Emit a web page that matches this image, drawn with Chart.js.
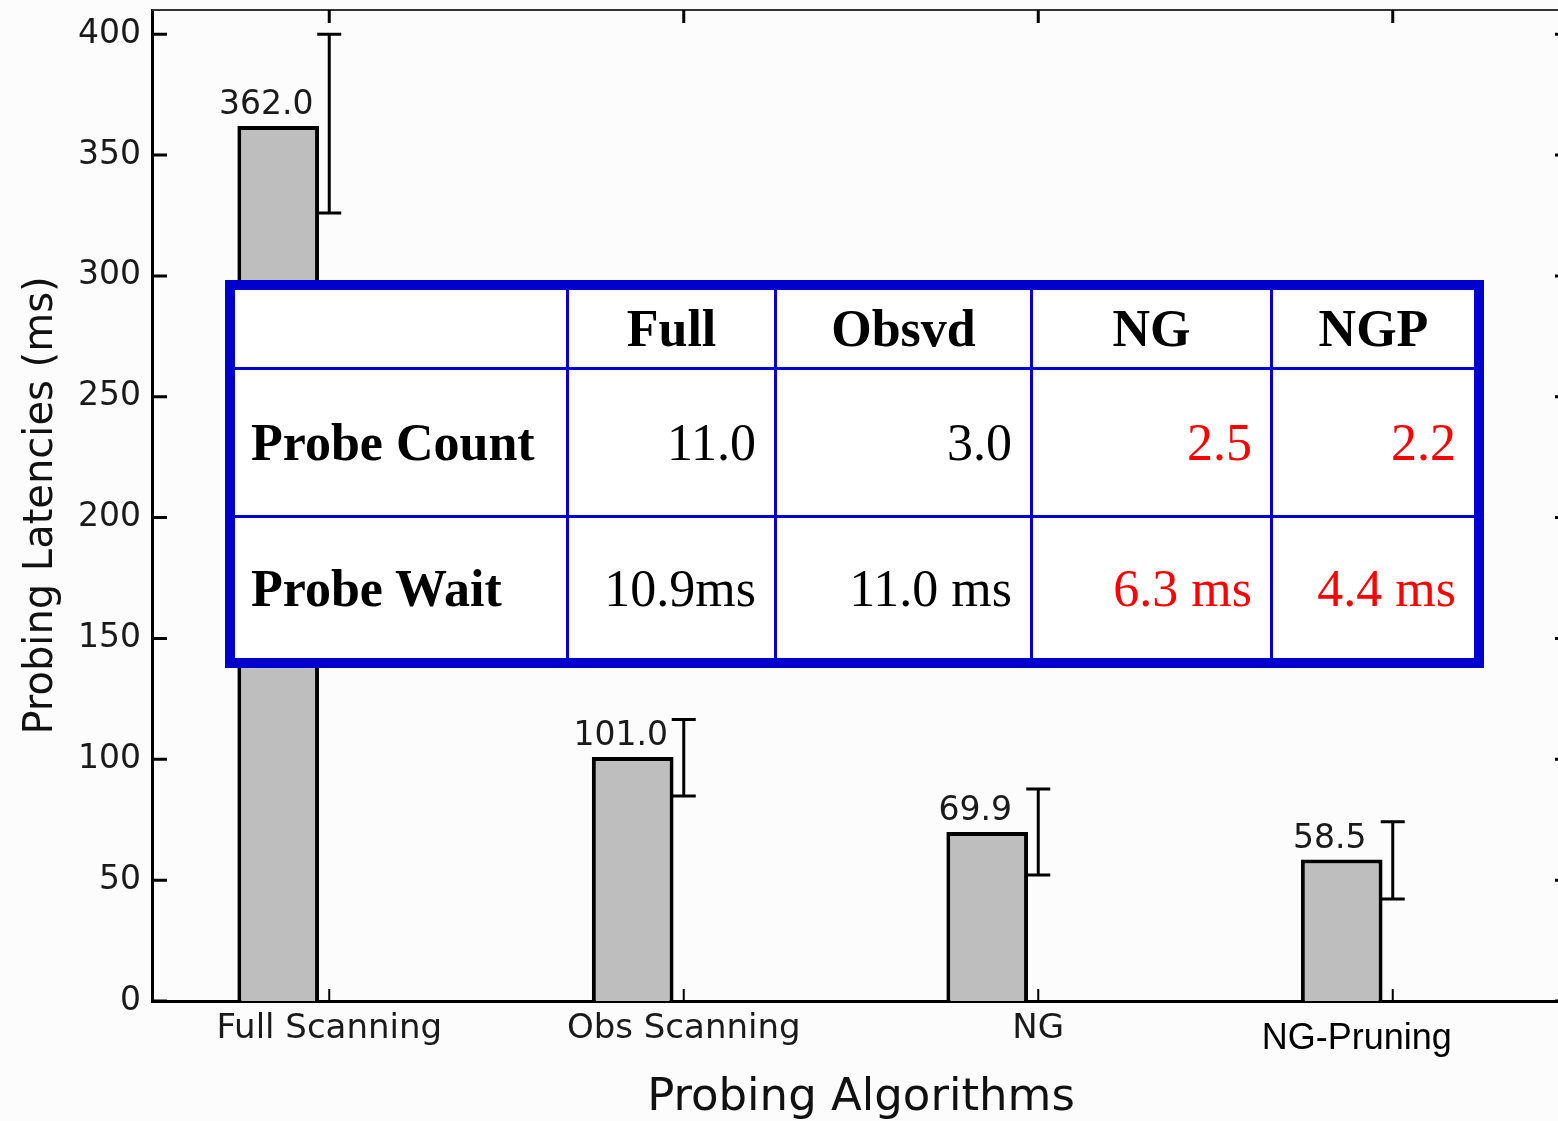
<!DOCTYPE html>
<html>
<head>
<meta charset="utf-8">
<title>Probing Latencies</title>
<script src="https://cdn.jsdelivr.net/npm/chart.js@4.4.0/dist/chart.umd.min.js"></script>
<style>
  html, body { margin: 0; padding: 0; background: #fcfcfc; overflow: hidden; }
  #wrap { position: relative; width: 1558px; height: 1121px; overflow: hidden; }
  #chart { position: absolute; left: 0; top: 0; }
  #stats {
    position: absolute; left: 225px; top: 280px;
    border: 10px solid #0000cc; border-spacing: 0; background: #fff;
    table-layout: fixed; width: 1259px;
    font-family: 'Liberation Serif', 'Times New Roman', serif; font-size: 52px; color: #000;
  }
  #stats td {
    box-sizing: border-box; padding: 0 18px 0 0;
    border-right: 3px solid #0000cc; border-bottom: 3px solid #0000cc;
    text-align: right; white-space: nowrap; vertical-align: middle;
  }
  #stats tr td:last-child { border-right: none; }
  #stats tbody tr:last-child td { border-bottom: none; }
  #stats thead td { text-align: center; font-weight: bold; padding: 0; }
  #stats td.name { text-align: left; font-weight: bold; padding-left: 16px; }
  #stats .hi { color: #ff0000; }
</style>
</head>
<body>
<div id="wrap">
  <canvas id="chart" width="1572" height="1121"></canvas>
  <table id="stats"></table>
</div>
<script>
// bar chart data
const categories = ['Full Scanning', 'Obs Scanning', 'NG', 'NG-Pruning'];
const latencies = [362.0, 101.0, 69.9, 58.5];
const errLow = [326, 84.8, 52.1, 42.2];
const errHigh = [400, 116.5, 87.7, 74.2];
const yTicks = [0, 50, 100, 150, 200, 250, 300, 350, 400];

// inset table data
const tableCols = ['Full', 'Obsvd', 'NG', 'NGP'];
const probeCount = ['11.0', '3.0', '2.5', '2.2'];
const probeWait = ['10.9ms', '11.0 ms', '6.3 ms', '4.4 ms'];
const highlighted = [false, false, true, true];

const colWidths = [334, 208, 256, 240, 201];
const rowHeights = [80, 148, 140];

// build the inset table
const table = document.getElementById('stats');
function cell(text, w, h, cls) {
  const td = document.createElement('td');
  td.textContent = text;
  td.style.width = w + 'px';
  td.style.height = h + 'px';
  if (cls) td.className = cls;
  return td;
}
const thead = document.createElement('thead');
const hr = document.createElement('tr');
hr.appendChild(cell('', colWidths[0], rowHeights[0]));
tableCols.forEach((c, i) => hr.appendChild(cell(c, colWidths[i + 1], rowHeights[0])));
thead.appendChild(hr);
table.appendChild(thead);
const tbody = document.createElement('tbody');
[['Probe Count', probeCount], ['Probe Wait', probeWait]].forEach(([name, vals], r) => {
  const tr = document.createElement('tr');
  tr.appendChild(cell(name, colWidths[0], rowHeights[r + 1], 'name'));
  vals.forEach((v, i) => tr.appendChild(cell(v, colWidths[i + 1], rowHeights[r + 1], highlighted[i] ? 'hi' : '')));
  tbody.appendChild(tr);
});
table.appendChild(tbody);

const sans = "'DejaVu Sans', Verdana, sans-serif";

// frame, inward ticks, error bars and value labels
const extras = {
  id: 'extras',
  afterDatasetsDraw(chart) {
    const ctx = chart.ctx;
    const x = chart.scales.x, y = chart.scales.y;
    ctx.save();
    ctx.strokeStyle = '#000';
    ctx.lineWidth = 3;
    categories.forEach((c, i) => {
      const px = x.getPixelForValue(i);
      const lo = y.getPixelForValue(errLow[i]);
      const hi = y.getPixelForValue(errHigh[i]);
      ctx.beginPath();
      ctx.moveTo(px, lo); ctx.lineTo(px, hi);
      ctx.moveTo(px - 12, lo); ctx.lineTo(px + 12, lo);
      ctx.moveTo(px - 12, hi); ctx.lineTo(px + 12, hi);
      ctx.stroke();
    });
    // value labels over the bars
    const meta = chart.getDatasetMeta(0);
    ctx.fillStyle = '#1a1a1a';
    ctx.font = '33px ' + sans;
    ctx.textAlign = 'center';
    ctx.textBaseline = 'bottom';
    meta.data.forEach((bar, i) => {
      ctx.fillText(latencies[i].toFixed(1), bar.x - 12, bar.y - 4);
    });
    ctx.restore();
  },
  afterDraw(chart) {
    const ctx = chart.ctx;
    const a = chart.chartArea;
    const x = chart.scales.x, y = chart.scales.y;
    ctx.save();
    // top frame line
    ctx.strokeStyle = '#333';
    ctx.lineWidth = 2;
    ctx.beginPath();
    ctx.moveTo(a.left, a.top); ctx.lineTo(a.right, a.top);
    ctx.stroke();
    ctx.strokeStyle = '#000';
    ctx.lineWidth = 3;
    ctx.beginPath();
    y.ticks.forEach(t => {
      const py = y.getPixelForValue(t.value);
      ctx.moveTo(a.left, py); ctx.lineTo(a.left + 15, py);
      ctx.moveTo(a.right, py); ctx.lineTo(a.right - 15, py);
    });
    categories.forEach((c, i) => {
      const px = x.getPixelForValue(i);
      ctx.moveTo(px, a.top); ctx.lineTo(px, a.top + 13);
    });
    ctx.stroke();
    ctx.lineWidth = 2;
    ctx.beginPath();
    categories.forEach((c, i) => {
      const px = x.getPixelForValue(i);
      ctx.moveTo(px, a.bottom); ctx.lineTo(px, a.bottom - 12);
    });
    ctx.stroke();
    // the last category label was pasted over in the original figure
    ctx.fillStyle = '#000';
    ctx.font = "36px 'Liberation Sans', Arial, sans-serif";
    ctx.textAlign = 'center';
    ctx.textBaseline = 'middle';
    ctx.fillText(categories[3], x.getPixelForValue(3) - 36, 1039);
    ctx.restore();
  }
};

const ctx = document.getElementById('chart').getContext('2d');
new Chart(ctx, {
  type: 'bar',
  data: {
    labels: categories,
    datasets: [
      {
        label: 'Probing latency',
        data: latencies,
        backgroundColor: '#bebebe',
        borderColor: '#000',
        borderWidth: 4,
        categoryPercentage: 0.576,
        barPercentage: 0.8
      },
      {
        // empty slot so the bars sit left of each tick
        label: 'spacer',
        data: categories.map(() => null),
        categoryPercentage: 0.576,
        barPercentage: 0.8
      }
    ]
  },
  options: {
    responsive: false,
    animation: false,
    layout: { padding: { top: 10, right: 2, left: 0, bottom: 0 } },
    plugins: { legend: { display: false }, tooltip: { enabled: false } },
    scales: {
      x: {
        grid: { display: false, drawTicks: false },
        border: { display: true, color: '#000', width: 3 },
        ticks: {
          padding: 8,
          color: '#1a1a1a',
          font: { family: sans, size: 34 },
          maxRotation: 0,
          callback: (v, i) => (i === 3 ? '' : categories[i])
        },
        title: {
          display: true,
          text: 'Probing Algorithms',
          color: '#111',
          font: { family: sans, size: 45, lineHeight: 1 },
          padding: { top: 0, bottom: 0 }
        },
        afterFit: s => { s.height = 120; s.paddingLeft = 0; s.paddingRight = 0; }
      },
      y: {
        min: 0,
        max: 410,
        afterBuildTicks: s => { s.ticks = yTicks.map(v => ({ value: v })); },
        grid: { display: false, drawTicks: false },
        border: { display: true, color: '#000', width: 3 },
        ticks: {
          padding: 11,
          color: '#1a1a1a',
          font: { family: sans, size: 33 }
        },
        title: {
          display: true,
          text: 'Probing Latencies (ms)',
          color: '#111',
          font: { family: sans, size: 40 },
          padding: { top: 18, bottom: 0 }
        },
        afterFit: s => { s.width = 152; s.paddingTop = 0; s.paddingBottom = 0; }
      }
    }
  },
  plugins: [extras]
});
</script>
</body>
</html>
